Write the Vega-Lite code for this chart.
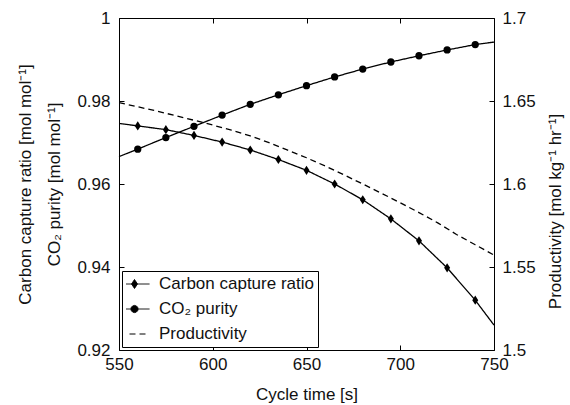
{
  "$schema": "https://vega.github.io/schema/vega-lite/v6.json",
  "width": 375,
  "height": 332,
  "autosize": "none",
  "padding": {"left": 119, "top": 18, "right": 76, "bottom": 55},
  "config": {
    "view": {"stroke": null},
    "font": "Liberation Sans",
    "axis": {
      "grid": false,
      "domainColor": "black",
      "domainWidth": 1,
      "tickColor": "black",
      "tickWidth": 1,
      "tickSize": -5,
      "labelFlush": false,
      "labelOverlap": false,
      "labelFont": "Liberation Sans",
      "labelFontSize": 17,
      "labelColor": "#111",
      "titleFont": "Liberation Sans",
      "titleFontSize": 17,
      "titleFontWeight": "normal",
      "titleColor": "#111"
    }
  },
  "data": {
    "values": [
      {"x": 550, "series": "Carbon capture ratio", "v": 0.9746},
      {"x": 560, "series": "Carbon capture ratio", "v": 0.974},
      {"x": 575, "series": "Carbon capture ratio", "v": 0.9731},
      {"x": 590, "series": "Carbon capture ratio", "v": 0.9717},
      {"x": 605, "series": "Carbon capture ratio", "v": 0.9701},
      {"x": 620, "series": "Carbon capture ratio", "v": 0.9682},
      {"x": 635, "series": "Carbon capture ratio", "v": 0.9659},
      {"x": 650, "series": "Carbon capture ratio", "v": 0.9633},
      {"x": 665, "series": "Carbon capture ratio", "v": 0.96},
      {"x": 680, "series": "Carbon capture ratio", "v": 0.9562},
      {"x": 695, "series": "Carbon capture ratio", "v": 0.9516},
      {"x": 710, "series": "Carbon capture ratio", "v": 0.9463},
      {"x": 725, "series": "Carbon capture ratio", "v": 0.9398},
      {"x": 740, "series": "Carbon capture ratio", "v": 0.932},
      {"x": 750, "series": "Carbon capture ratio", "v": 0.926},
      {"x": 550, "series": "CO₂ purity", "v": 0.9666},
      {"x": 560, "series": "CO₂ purity", "v": 0.9684},
      {"x": 575, "series": "CO₂ purity", "v": 0.9712},
      {"x": 590, "series": "CO₂ purity", "v": 0.9739},
      {"x": 605, "series": "CO₂ purity", "v": 0.9766},
      {"x": 620, "series": "CO₂ purity", "v": 0.9792},
      {"x": 635, "series": "CO₂ purity", "v": 0.9815},
      {"x": 650, "series": "CO₂ purity", "v": 0.9837},
      {"x": 665, "series": "CO₂ purity", "v": 0.9858},
      {"x": 680, "series": "CO₂ purity", "v": 0.9877},
      {"x": 695, "series": "CO₂ purity", "v": 0.9894},
      {"x": 710, "series": "CO₂ purity", "v": 0.9909},
      {"x": 725, "series": "CO₂ purity", "v": 0.9923},
      {"x": 740, "series": "CO₂ purity", "v": 0.9936},
      {"x": 750, "series": "CO₂ purity", "v": 0.9942},
      {"x": 550, "series": "Productivity", "v": 1.649},
      {"x": 560, "series": "Productivity", "v": 1.6465},
      {"x": 570, "series": "Productivity", "v": 1.644},
      {"x": 580, "series": "Productivity", "v": 1.6412},
      {"x": 590, "series": "Productivity", "v": 1.6384},
      {"x": 600, "series": "Productivity", "v": 1.6355},
      {"x": 610, "series": "Productivity", "v": 1.6324},
      {"x": 620, "series": "Productivity", "v": 1.629},
      {"x": 630, "series": "Productivity", "v": 1.6249},
      {"x": 640, "series": "Productivity", "v": 1.6204},
      {"x": 650, "series": "Productivity", "v": 1.6158},
      {"x": 660, "series": "Productivity", "v": 1.6108},
      {"x": 670, "series": "Productivity", "v": 1.6055},
      {"x": 680, "series": "Productivity", "v": 1.6},
      {"x": 690, "series": "Productivity", "v": 1.5944},
      {"x": 700, "series": "Productivity", "v": 1.5887},
      {"x": 710, "series": "Productivity", "v": 1.5828},
      {"x": 720, "series": "Productivity", "v": 1.5766},
      {"x": 730, "series": "Productivity", "v": 1.5696},
      {"x": 740, "series": "Productivity", "v": 1.5634},
      {"x": 750, "series": "Productivity", "v": 1.5572}
    ]
  },
  "layer": [
    {
      "layer": [
        {
          "transform": [{"filter": "datum.series != 'Productivity'"}],
          "mark": {"type": "line", "color": "black", "strokeWidth": 1.3},
          "encoding": {
            "x": {
              "field": "x", "type": "quantitative",
              "scale": {"domain": [550, 750], "nice": false, "zero": false},
              "axis": {"orient": "bottom", "values": [550, 600, 650, 700, 750], "title": "Cycle time [s]", "labelPadding": 11, "titlePadding": 14}
            },
            "y": {
              "field": "v", "type": "quantitative",
              "scale": {"domain": [0.92, 1], "nice": false, "zero": false},
              "axis": {"orient": "left", "values": [0.92, 0.94, 0.96, 0.98, 1], "format": "~g", "labelPadding": 14, "titlePadding": 13, "titleLineHeight": 29, "title": ["Carbon capture ratio [mol mol⁻¹]", "CO₂ purity [mol mol⁻¹]"]}
            },
            "detail": {"field": "series"},
            "strokeDash": {
              "field": "series", "type": "nominal",
              "scale": {"domain": ["Carbon capture ratio", "CO₂ purity", "Productivity"], "range": [[1, 0], [1, 0], [6, 4]]},
              "legend": {
                "title": null,
                "orient": "bottom-left",
                "offset": 3,
                "padding": 4,
                "gridAlign": "all",
                "clipHeight": 18,
                "strokeColor": "black",
                "fillColor": "white",
                "symbolSize": 256,
                "symbolStrokeWidth": 1,
                "symbolStrokeColor": "black",
                "symbolFillColor": "black",
                "labelFont": "Liberation Sans",
                "labelFontSize": 17,
                "labelColor": "#111",
                "labelOffset": 16,
                "labelLimit": 0,
                "rowPadding": 7,
                "encode": {
                  "symbols": {
                    "update": {
                      "fill": {"value": "black"},
                      "stroke": {"value": "black"},
                      "shape": [
                        {"test": "datum.value === 'Carbon capture ratio'", "value": "M-1.875,0H1.875M0,-0.56L0.375,0L0,0.56L-0.375,0Z"},
                        {"test": "datum.value === 'Productivity'", "value": "M-1.875,0H1.875"},
                        {"value": "M-1.875,0H1.875M0.45,0L0.39,0.225L0.225,0.39L0,0.45L-0.225,0.39L-0.39,0.225L-0.45,0L-0.39,-0.225L-0.225,-0.39L0,-0.45L0.225,-0.39L0.39,-0.225Z"}
                      ]
                    }
                  }
                }
              }
            }
          }
        },
        {
          "transform": [{"filter": "datum.series != 'Productivity' && datum.x != 550 && datum.x != 750"}],
          "mark": {"type": "point", "filled": true, "color": "black", "opacity": 1, "size": 53},
          "encoding": {
            "x": {"field": "x", "type": "quantitative"},
            "y": {"field": "v", "type": "quantitative"},
            "shape": {
              "field": "series", "type": "nominal",
              "scale": {"domain": ["Carbon capture ratio", "CO₂ purity"], "range": ["M0,-1.26L0.82,0L0,1.26L-0.82,0Z", "circle"]},
              "legend": null
            }
          }
        }
      ]
    },
    {
      "transform": [{"filter": "datum.series == 'Productivity'"}],
      "mark": {"type": "line", "color": "black", "strokeWidth": 1.3},
      "encoding": {
        "x": {
          "field": "x", "type": "quantitative",
          "axis": {"orient": "top", "values": [550, 600, 650, 700, 750], "labels": false, "title": null}
        },
        "y": {
          "field": "v", "type": "quantitative",
          "scale": {"domain": [1.5, 1.7], "nice": false, "zero": false},
          "axis": {"orient": "right", "values": [1.5, 1.55, 1.6, 1.65, 1.7], "format": "~g", "labelPadding": 13, "titlePadding": 12, "titleAngle": 270, "titleBaseline": "top", "titleY": 193, "title": "Productivity [mol kg⁻¹ hr⁻¹]"}
        },
        "strokeDash": {
          "field": "series", "type": "nominal",
          "scale": {"domain": ["Carbon capture ratio", "CO₂ purity", "Productivity"], "range": [[1, 0], [1, 0], [6, 4]]}
        }
      }
    }
  ],
  "resolve": {"scale": {"y": "independent"}, "axis": {"x": "independent"}}
}
